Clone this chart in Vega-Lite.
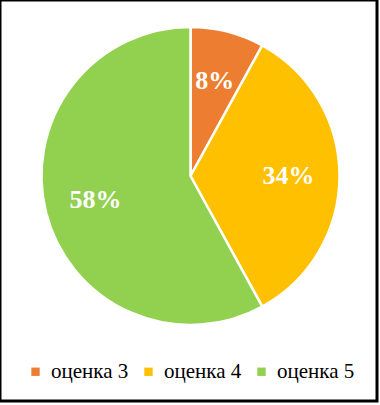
{
  "$schema": "https://vega.github.io/schema/vega-lite/v6.json",
  "autosize": {"type": "fit", "contains": "padding"},
  "width": 380,
  "height": 405,
  "padding": {"left": 0, "top": 0, "right": 3, "bottom": 4},
  "background": "white",
  "view": {"stroke": "#000000", "strokeWidth": 3},
  "config": {
    "view": {"stroke": "#000000", "strokeWidth": 3},
    "style": {"cell": {"stroke": "#000000", "strokeWidth": 3}},
    "font": "Liberation Serif",
    "legend": {"labelFont": "Times New Roman, Liberation Serif, serif"}
  },
  "data": {
    "values": [
      {"category": "оценка 3", "value": 8, "label": "8%", "order": 1},
      {"category": "оценка 4", "value": 34, "label": "34%", "order": 2},
      {"category": "оценка 5", "value": 58, "label": "58%", "order": 3}
    ]
  },
  "encoding": {
    "theta": {"field": "value", "type": "quantitative", "stack": true},
    "order": {"field": "order", "type": "quantitative"},
    "color": {
      "field": "category",
      "type": "nominal",
      "scale": {"domain": ["оценка 3", "оценка 4", "оценка 5"], "range": ["#ED7D31", "#FFC000", "#92D050"]},
      "legend": {
        "title": null,
        "orient": "none",
        "direction": "horizontal",
        "legendX": 25,
        "legendY": 361,
        "symbolType": "square",
        "symbolSize": 70,
        "symbolStrokeWidth": 0,
        "symbolOpacity": 1,
        "labelFont": "Times New Roman, Liberation Serif, serif",
        "labelFontSize": 21,
        "labelColor": "#000000",
        "labelOffset": 5,
        "labelLimit": 200,
        "columnPadding": 9
      }
    }
  },
  "layer": [
    {
      "mark": {"type": "arc", "outerRadius": 149, "stroke": "white", "strokeWidth": 2.5, "xOffset": 2, "yOffset": -24.5}
    },
    {
      "mark": {"type": "text", "radius": 98, "font": "Liberation Serif", "fontSize": 26, "fontWeight": "bold", "fill": "white", "xOffset": 2, "yOffset": -24.5},
      "encoding": {
        "text": {"field": "label", "type": "nominal"},
        "color": {"value": "white"}
      }
    }
  ]
}
